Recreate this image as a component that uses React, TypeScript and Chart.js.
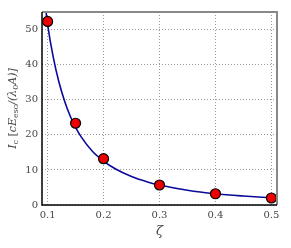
import React, { useEffect, useRef } from "react";
import { Chart, registerables } from "chart.js";
Chart.register(...registerables);

const pointX = [0.1, 0.15, 0.2, 0.3, 0.4, 0.5];
const pointY = [52.3, 23.3, 13.2, 5.7, 3.2, 2.0];
const curveX = [0.095, 0.1, 0.11, 0.12, 0.13, 0.14, 0.15, 0.16, 0.18, 0.2, 0.22, 0.25, 0.28, 0.3, 0.35, 0.4, 0.45, 0.5];
const curveY = [58, 51.5, 42.2, 35.2, 29.8, 25.5, 22.1, 19.4, 15.3, 12.5, 10.4, 8.1, 6.5, 5.7, 4.2, 3.2, 2.55, 2.05];
const xTicks = [0.1, 0.2, 0.3, 0.4, 0.5];
const yTicks = [0, 10, 20, 30, 40, 50];

const FONT = "'DejaVu Serif', 'Liberation Serif', serif";

const framePlugin = {
  id: "frame",
  afterDraw(chart: any) {
    const { ctx, chartArea: a } = chart;
    ctx.save();
    ctx.strokeStyle = "#888888";
    ctx.lineWidth = 2;
    ctx.beginPath();
    ctx.moveTo(a.left, a.top);
    ctx.lineTo(a.right, a.top);
    ctx.lineTo(a.right, a.bottom);
    ctx.stroke();
    ctx.strokeStyle = "#000000";
    ctx.lineWidth = 1.5;
    ctx.beginPath();
    ctx.moveTo(a.left, a.top);
    ctx.lineTo(a.left, a.bottom);
    ctx.lineTo(a.right, a.bottom);
    ctx.stroke();
    // x title
    ctx.fillStyle = "#444";
    ctx.font = "italic 13px " + FONT;
    ctx.textAlign = "center";
    ctx.textBaseline = "middle";
    ctx.fillText("ζ", (a.left + a.right) / 2, 232);
    // y title with subscripts
    ctx.translate(12, (a.top + a.bottom) / 2);
    ctx.rotate(-Math.PI / 2);
    const parts: [string, boolean, boolean][] = [
      ["I", false, true], ["c", true, false], [" [", false, false], ["cE", false, true], ["esc", true, false],
      ["/(λ", false, true], ["0", true, false], ["A)]", false, true],
    ];
    const fontFor = (sub: boolean, it: boolean) => (it ? "italic " : "") + (sub ? "8px " : "11px ") + FONT;
    let total = 0;
    for (const [t, s, it] of parts) { ctx.font = fontFor(s, it); total += ctx.measureText(t).width; }
    let x = -total / 2;
    ctx.textAlign = "left";
    ctx.textBaseline = "alphabetic";
    for (const [t, s, it] of parts) {
      ctx.font = fontFor(s, it);
      ctx.fillText(t, x, s ? 6 : 4);
      x += ctx.measureText(t).width;
    }
    ctx.restore();
  },
};

export default function App() {
  const ref = useRef<HTMLCanvasElement>(null);
  useEffect(() => {
    document.body.style.margin = "0";
    const chart = new Chart(ref.current!, {
      type: "scatter",
      data: {
        datasets: [
          {
            type: "line",
            data: curveX.map((x, i) => ({ x, y: curveY[i] })),
            borderColor: "#0a0a9a",
            borderWidth: 1.6,
            pointRadius: 0,
            tension: 0.4,
            cubicInterpolationMode: "monotone",
            order: 2,
          } as any,
          {
            data: pointX.map((x, i) => ({ x, y: pointY[i] })),
            backgroundColor: "#ee0000",
            borderColor: "#000000",
            borderWidth: 1.2,
            pointRadius: 5,
            order: 1,
          },
        ],
      },
      options: {
        animation: false,
        responsive: false,
        clip: { left: 0, right: 0, top: 0, bottom: 0 } as any,
        layout: { padding: { left: 0, right: 14, top: 12, bottom: 0 } },
        plugins: { legend: { display: false }, tooltip: { enabled: false } },
        scales: {
          x: {
            type: "linear",
            min: 0.09,
            max: 0.51,
            afterBuildTicks: (s: any) => { s.ticks = xTicks.map((v) => ({ value: v })); },
            afterFit: (s: any) => { s.height = 43; },
            grid: { color: "#999", lineWidth: 1, tickLength: 0, drawTicks: false },
            border: { display: false, dash: [1, 2] },
            ticks: { color: "#444", font: { family: FONT, size: 10 }, padding: 4, maxRotation: 0, callback: (v: any) => Number(v).toFixed(1) },
          },
          y: {
            type: "linear",
            min: 0,
            max: 55,
            afterBuildTicks: (s: any) => { s.ticks = yTicks.map((v) => ({ value: v })); },
            afterFit: (s: any) => { s.width = 42; },
            grid: { color: "#999", lineWidth: 1, tickLength: 0, drawTicks: false },
            border: { display: false, dash: [1, 2] },
            ticks: { color: "#444", font: { family: FONT, size: 10 }, padding: 4, callback: (v: any) => String(v) },
          },
        },
      },
      plugins: [framePlugin],
    });
    return () => chart.destroy();
  }, []);
  return <canvas ref={ref} width={291} height={248} style={{ display: "block" }} />;
}
